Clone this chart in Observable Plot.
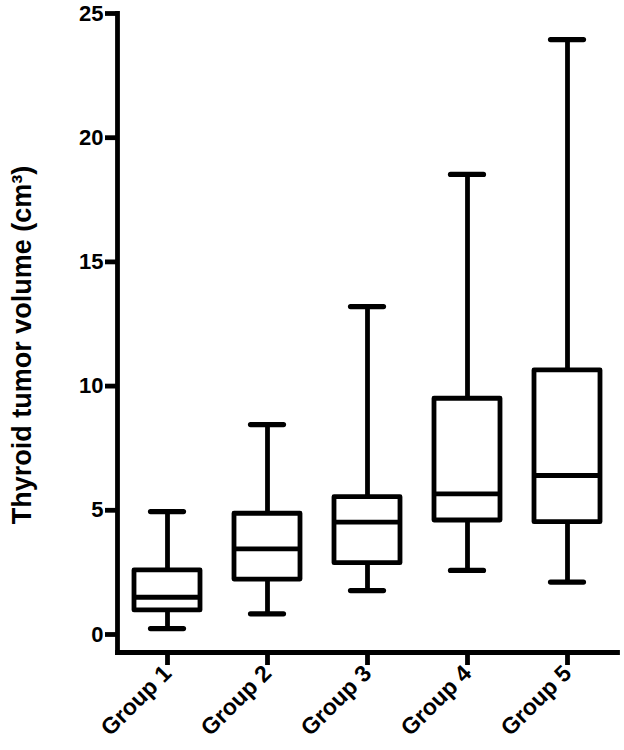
<!DOCTYPE html>
<html>
<head>
<meta charset="utf-8">
<script src="https://cdn.jsdelivr.net/npm/d3@7"></script>
<script src="https://cdn.jsdelivr.net/npm/@observablehq/plot@0.6"></script>
<style>
  html, body { margin: 0; padding: 0; background: #fff; }
  #chart svg { display: block; }
</style>
</head>
<body>
<div id="chart"></div>
<script>
const groups = ["Group 1", "Group 2", "Group 3", "Group 4", "Group 5"];
const minVals = [0.24, 0.83, 1.77, 2.58, 2.11];
const q1Vals = [0.97, 2.21, 2.87, 4.59, 4.52];
const medianVals = [1.5, 3.45, 4.52, 5.66, 6.40];
const q3Vals = [2.58, 4.86, 5.53, 9.49, 10.63];
const maxVals = [4.95, 8.45, 13.2, 18.52, 23.95];
const yTicks = [0, 5, 10, 15, 20, 25];
const yLabel = "Thyroid tumor volume (cm³)";

const data = groups.map((g, i) => ({
  group: g, min: minVals[i], q1: q1Vals[i], median: medianVals[i], q3: q3Vals[i], max: maxVals[i]
}));

const font = "'Liberation Sans', Arial, sans-serif";
const sw = 4.8;

const chart = Plot.plot({
  width: 624,
  height: 750,
  marginLeft: 117,
  marginRight: 7,
  marginTop: 13,
  marginBottom: 98,
  style: { fontFamily: font, fontWeight: "bold", color: "#000", background: "#fff" },
  x: { domain: groups, padding: 0, axis: null },
  y: { domain: [-0.725, 25], axis: null },
  marks: [
    Plot.frame({ anchor: "left", strokeWidth: sw, stroke: "#000" }),
    Plot.frame({ anchor: "bottom", strokeWidth: sw, stroke: "#000" }),
    Plot.axisY(yTicks, {
      tickSize: 12, tickPadding: 2, fontSize: 22, fontWeight: "bold",
      strokeWidth: sw, label: null
    }),
    Plot.axisX({
      tickSize: 13, tickPadding: 4, fontSize: 23, fontWeight: "bold",
      strokeWidth: sw, tickRotate: -45, label: null
    }),
    Plot.text([yLabel], {
      frameAnchor: "left", textAnchor: "middle", rotate: -90, dx: -95, dy: 12,
      fontSize: 27, fontWeight: "bold", fill: "#000"
    }),
    Plot.ruleX(data, { x: "group", y1: "min", y2: "max", strokeWidth: sw }),
    Plot.tickY(data, { x: "group", y: "min", strokeWidth: sw + 0.4, insetLeft: 33.5, insetRight: 33.5, strokeLinecap: "round" }),
    Plot.tickY(data, { x: "group", y: "max", strokeWidth: sw + 0.4, insetLeft: 33.5, insetRight: 33.5, strokeLinecap: "round" }),
    Plot.rect(data, { x: "group", y1: "q1", y2: "q3", fill: "#fff", stroke: "#000", strokeWidth: sw, insetLeft: 17, insetRight: 17, strokeLinejoin: "round" }),
    Plot.tickY(data, { x: "group", y: "median", strokeWidth: sw, insetLeft: 17, insetRight: 17 })
  ]
});
document.getElementById("chart").appendChild(chart);
</script>
</body>
</html>
